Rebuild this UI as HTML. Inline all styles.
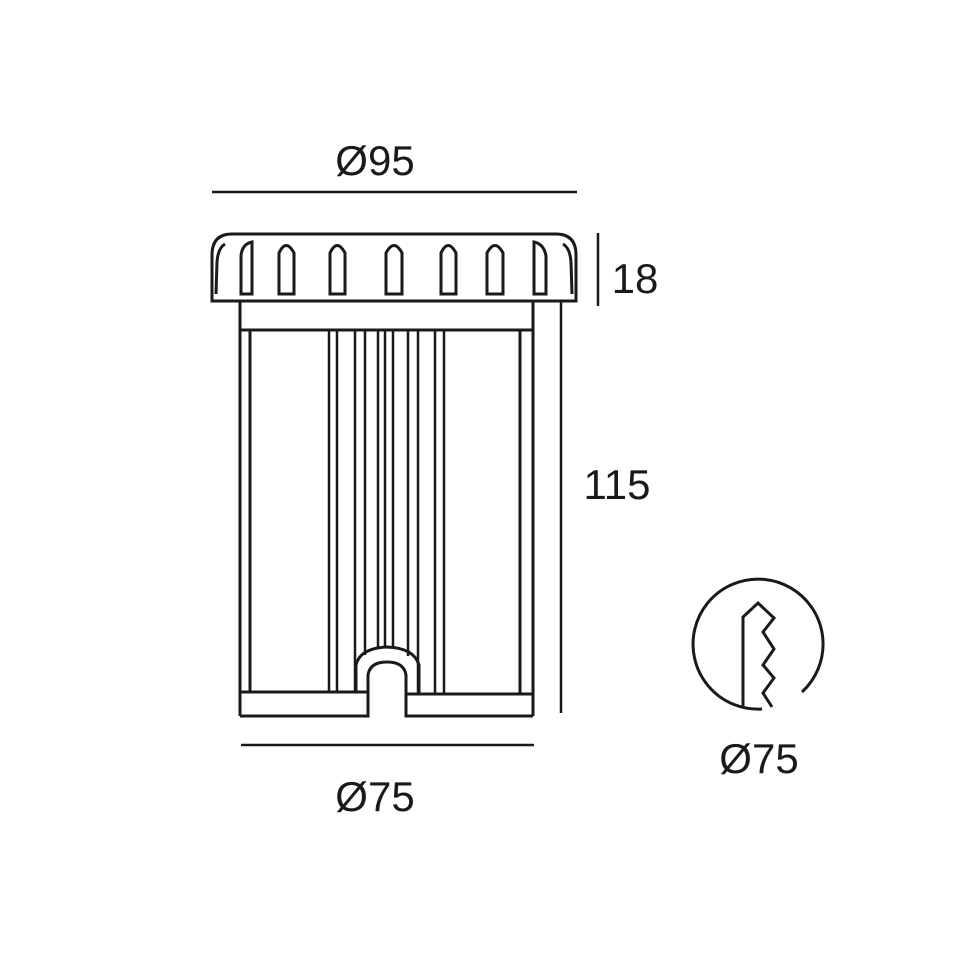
<!DOCTYPE html>
<html><head><style>html,body{margin:0;padding:0;background:#fff}svg{display:block}</style></head><body>
<svg width="959" height="959" viewBox="0 0 959 959" xmlns="http://www.w3.org/2000/svg">
<g fill="none" stroke="#1a1a1a" stroke-width="3">
<line x1="212" y1="192" x2="577" y2="192" stroke-width="2.5"/>
<line x1="598" y1="233" x2="598" y2="306" stroke-width="2.5"/>
<line x1="561" y1="301" x2="561" y2="713" stroke-width="2.5"/>
<line x1="241" y1="745" x2="534" y2="745" stroke-width="2.5"/>
<path d="M212,301 L212,255 Q212,234 232,234 L556,234 Q576,234 576,255 L576,301 Z"/>
<path d="M216,294 L217,262 Q218,248 225,244"/>
<path d="M572,294 L571,262 Q570,248 563,244"/>
<path d="M241,294 V256 Q242,244 252,242 V294 Z"/>
<path d="M279,294 V253 Q286,238 294,253 V294 Z"/>
<path d="M330,294 V253 Q337,238 345,253 V294 Z"/>
<path d="M386,294 V253 Q394,238 402,253 V294 Z"/>
<path d="M441,294 V253 Q448,238 456,253 V294 Z"/>
<path d="M487,294 V253 Q495,238 503,253 V294 Z"/>
<path d="M534,294 V242 Q544,244 546,256 V294 Z"/>
<line x1="240" y1="301" x2="240" y2="716"/>
<line x1="533" y1="301" x2="533" y2="716"/>
<line x1="240" y1="330" x2="533" y2="330"/>
<line x1="250" y1="330" x2="250" y2="692"/>
<line x1="520" y1="330" x2="520" y2="694"/>
<g stroke-width="2.5">
<line x1="329" y1="330" x2="329" y2="692"/><line x1="337" y1="330" x2="337" y2="692"/>
<line x1="355" y1="330" x2="355" y2="692"/><line x1="365" y1="330" x2="365" y2="655"/>
<line x1="378" y1="330" x2="378" y2="648"/><line x1="385" y1="330" x2="385" y2="646"/>
<line x1="393" y1="330" x2="393" y2="647"/><line x1="408" y1="330" x2="408" y2="656"/>
<line x1="418" y1="330" x2="418" y2="694"/><line x1="435" y1="330" x2="435" y2="694"/>
<line x1="444" y1="330" x2="444" y2="694"/>
</g>
<path d="M240,692 H368 V716 H240"/>
<path d="M533,694 H406 V716 H533"/>
<path d="M356,692 V665 Q360,648 387,647 Q414,648 419,665 V694"/>
<path d="M368,716 V675 Q370,662 387,662 Q404,662 406,675 V716"/>
<path d="M802,692 A65,65 0 1 0 762,709"/>
<path d="M743,708 V617 L758,603 L774,618 L763,632 L774,649 L763,665 L774,678 L763,693 L772,707"/>
</g>
<g font-family="Liberation Sans, sans-serif" font-size="42" fill="#1a1a1a" text-anchor="middle">
<text x="375" y="175">Ø95</text>
<text x="635" y="293">18</text>
<text x="617" y="499">115</text>
<text x="375" y="811">Ø75</text>
<text x="759" y="773">Ø75</text>
</g>
</svg>
</body></html>
